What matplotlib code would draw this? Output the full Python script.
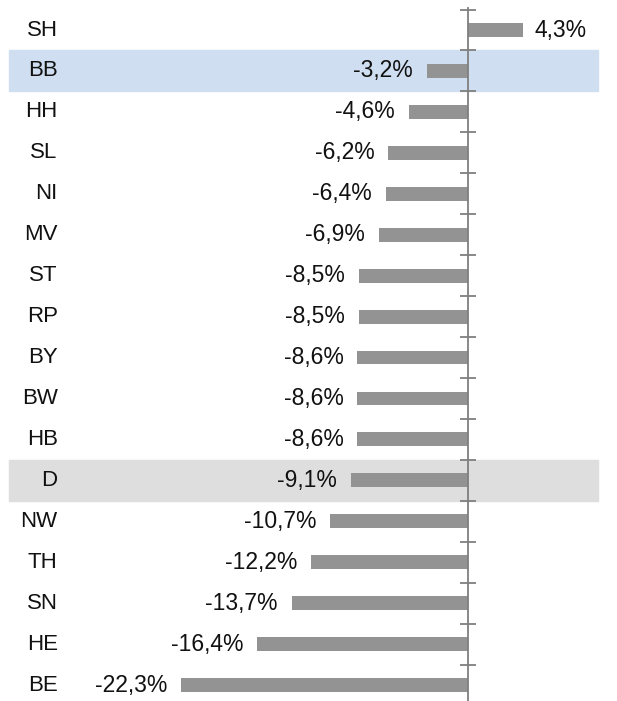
import numpy as np
import matplotlib
matplotlib.use('Agg')
import matplotlib.pyplot as plt
import matplotlib.transforms as mtransforms

# Change per state (percent), top row first
states = ['SH', 'BB', 'HH', 'SL', 'NI', 'MV', 'ST', 'RP', 'BY', 'BW', 'HB', 'D',
          'NW', 'TH', 'SN', 'HE', 'BE']
changes = [4.3, -3.2, -4.6, -6.2, -6.4, -6.9, -8.5, -8.5, -8.6, -8.6, -8.6, -9.1,
           -10.7, -12.2, -13.7, -16.4, -22.3]
highlight_blue = ['BB']
highlight_gray = ['D']

plt.rcParams['font.family'] = ['Liberation Sans', 'DejaVu Sans']

fig = plt.figure(figsize=(6.17, 7.01), dpi=100)
ax = fig.add_axes([0, 0, 1, 1])

n = len(states)
y = np.arange(n)

# Row highlights spanning nearly the full width
for i, s in enumerate(states):
    if s in highlight_blue:
        ax.axhspan(i - 0.5, i + 0.5, xmin=0.015, xmax=0.969, color='#cfdef0', zorder=0)
    if s in highlight_gray:
        ax.axhspan(i - 0.5, i + 0.5, xmin=0.015, xmax=0.969, color='#dedede', zorder=0)

ax.barh(y, changes, height=0.34, color='#939393', zorder=2)

# Value labels next to the bar ends, German decimal comma
for i, v in enumerate(changes):
    txt = f'{v:.1f}%'.replace('.', ',')
    if v >= 0:
        ax.annotate(txt, (v, i), xytext=(8.5, 0), textcoords='offset points',
                    ha='left', va='center', fontsize=16.5, color='#111111')
    else:
        ax.annotate(txt, (v, i), xytext=(-10, 0), textcoords='offset points',
                    ha='right', va='center', fontsize=16.5, color='#111111')

# Category labels on the left
trans = mtransforms.blended_transform_factory(fig.transFigure, ax.transData)
for i, s in enumerate(states):
    ax.text(0.0935, i, s, transform=trans, ha='right', va='center', fontsize=16,
            color='#111111')

ax.set_xlim(-36.4, 11.6)
ax.set_ylim(16.39, -0.733)

for side in ['top', 'right', 'bottom']:
    ax.spines[side].set_visible(False)
ax.spines['left'].set_position(('data', 0))
ax.spines['left'].set_color('#7f7f7f')
ax.spines['left'].set_linewidth(1.3)
ax.spines['left'].set_bounds(-0.53, 16.39)
ax.spines['left'].set_zorder(3)
ax.set_yticks(np.arange(-0.5, n - 0.5, 1.0))
ax.set_yticklabels([])
ax.tick_params(axis='y', direction='inout', length=11, width=1.3, color='#7f7f7f')
ax.set_xticks([])
ax.patch.set_alpha(0)

fig.savefig('out.png', dpi=100)
